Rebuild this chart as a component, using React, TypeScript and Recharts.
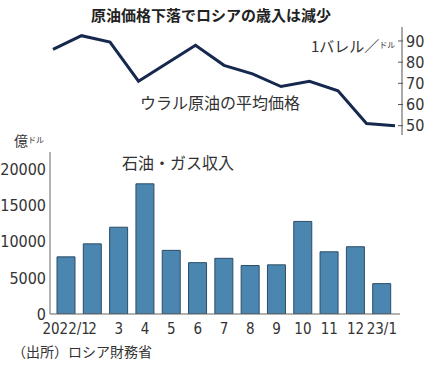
import React from 'react';
import { LineChart, Line, BarChart, Bar, XAxis, YAxis } from 'recharts';

// Monthly data, 2022/1 – 2023/1
const months = ['2022/1', '2', '3', '4', '5', '6', '7', '8', '9', '10', '11', '12', '23/1'];
const uralsPrice = [86, 92.5, 89.5, 71, 79.5, 88, 78.5, 74.5, 68.5, 71, 66.5, 51, 50];
const oilGasRevenue = [7900, 9700, 12000, 18000, 8800, 7100, 7700, 6700, 6800, 12800, 8600, 9300, 4200];
const priceTicks = [50, 60, 70, 80, 90];
const revenueTicks = [0, 5000, 10000, 15000, 20000];

const data = months.map((month, i) => ({
  month,
  price: uralsPrice[i],
  revenue: oilGasRevenue[i],
}));

const NUM_FONT = '"Liberation Sans Narrow", "DejaVu Sans Condensed", "Roboto", sans-serif';
const JP_FONT = '"Noto Sans CJK JP", "Noto Sans", sans-serif';

function PriceTick({ x, y, payload }: { x: number; y: number; payload: { value: number } }) {
  return (
    <g>
      <line x1={x - 8} x2={x - 3} y1={y} y2={y} stroke="#555" strokeWidth={1} />
      <text x={x} y={y} dy="0.36em" fill="#333" fontSize={16} fontFamily={NUM_FONT}>
        {payload.value}
      </text>
    </g>
  );
}

const textStyle = (top: number, left: number, size: number, extra: React.CSSProperties = {}) =>
  ({
    position: 'absolute',
    top,
    left,
    fontSize: size,
    lineHeight: 1,
    fontFamily: JP_FONT,
    color: '#333',
    whiteSpace: 'nowrap',
    ...extra,
  }) as React.CSSProperties;

export default function App() {
  return (
    <div style={{ position: 'absolute', top: 0, left: 0, width: 425, height: 366, background: '#fff' }}>
      <div style={{ position: 'absolute', top: 0, left: 0 }}>
        <BarChart
          width={425}
          height={366}
          data={data}
          margin={{ top: 152, right: 25, bottom: 22, left: 0 }}
        >
          <XAxis
            dataKey="month"
            interval={0}
            tickLine={false}
            tickSize={6}
            tickMargin={3}
            height={30}
            padding={{ left: 3, right: 5 }}
            axisLine={{ stroke: '#666' }}
            tick={{ fontSize: 15, fill: '#333', fontFamily: NUM_FONT }}
          />
          <YAxis
            width={50}
            domain={[0, 22400]}
            ticks={revenueTicks}
            interval={0}
            allowDataOverflow
            tickLine={false}
            tickSize={2}
            tickMargin={2}
            axisLine={{ stroke: '#666' }}
            tick={{ fontSize: 16, fill: '#333', fontFamily: NUM_FONT }}
          />
          <Bar
            dataKey="revenue"
            fill="#4a86b0"
            stroke="#2c4d66"
            strokeWidth={1}
            barSize={18}
            isAnimationActive={false}
          />
        </BarChart>
      </div>

      <div style={{ position: 'absolute', top: 0, left: 0 }}>
        <LineChart
          width={425}
          height={140}
          data={data}
          margin={{ top: 27, right: 0, bottom: 5, left: 50 }}
        >
          <XAxis dataKey="month" hide padding={{ left: 3, right: 7 }} />
          <YAxis
            orientation="right"
            width={23}
            domain={[45.6, 96.6]}
            ticks={priceTicks}
            interval={0}
            allowDataOverflow
            tickLine={false}
            tickSize={4}
            tickMargin={0}
            axisLine={{ stroke: '#555' }}
            tick={(props: any) => <PriceTick {...props} />}
          />
          <Line
            dataKey="price"
            stroke="#16284d"
            strokeWidth={3}
            dot={false}
            isAnimationActive={false}
          />
        </LineChart>
      </div>

      <div style={textStyle(7, 0, 15, { width: 422, textAlign: 'center', fontWeight: 700, color: '#222' })}>
        原油価格下落でロシアの歳入は減少
      </div>
      <div style={textStyle(38, 311, 15)}>
        1バレル／<span style={{ fontSize: 8, verticalAlign: 4 }}>ドル</span>
      </div>
      <div style={textStyle(94, 140, 16)}>ウラル原油の平均価格</div>
      <div style={textStyle(133, 14, 14)}>
        億<span style={{ fontSize: 8, verticalAlign: 3 }}>ドル</span>
      </div>
      <div style={textStyle(154, 122, 16)}>石油・ガス収入</div>
      <div style={textStyle(344, 12, 14)}>（出所）ロシア財務省</div>
    </div>
  );
}
